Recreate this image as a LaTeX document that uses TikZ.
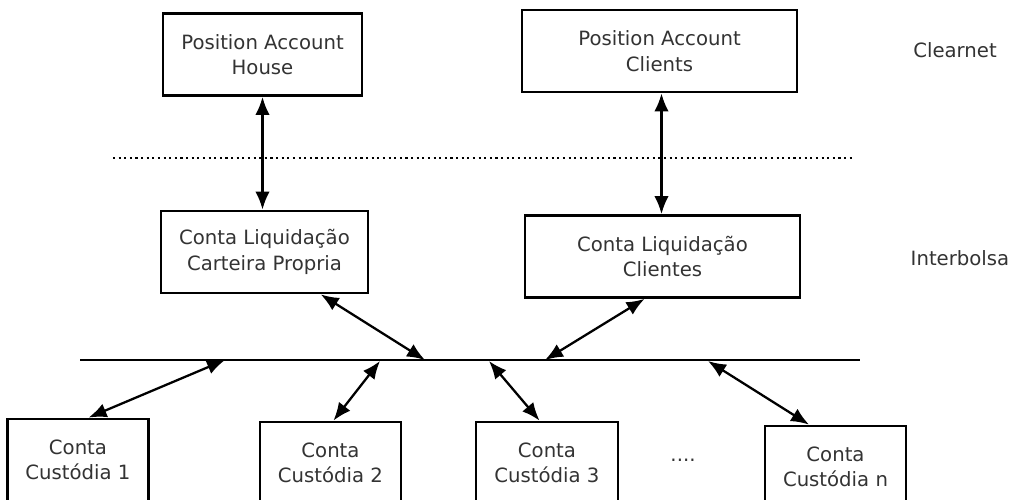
\documentclass[tikz,border=0pt]{standalone}
\usepackage{fontspec}
\setmainfont{DejaVu Sans}
\usetikzlibrary{arrows.meta}

\tikzset{
  account/.style={draw, line width=1.6pt, align=center, inner sep=2pt,
    minimum height=82*0.2mm, text=black!80},
  link/.style={line width=1.3pt, {Latex[length=3.6mm,width=2.9mm]}-{Latex[length=3.6mm,width=2.9mm]}},
  layer/.style={text=black!80}
}

\begin{document}
\begin{tikzpicture}[x=0.2mm, y=-0.2mm, font=\fontsize{11.2}{14.5}\selectfont]
        \useasboundingbox (0,0) rectangle (1014,500);
        \clip (0,0) rectangle (1014,500);
        % clearnet
        \node (pah) at (262.5,54.5) [account, minimum width=199*0.2mm] {Position Account\\House};
        \node (pac) at (659.5,51) [account, minimum width=275*0.2mm] {Position Account\\Clients};
        \node (clearnet) at (955,50) [layer] {Clearnet};
        \draw [line width=1.2pt, dotted] (113,158) -- (855,158);
        % interbolsa
        \node (clcp) at (264.5,252) [account, minimum width=207*0.2mm] {Conta Liquidação\\Carteira Propria};
        \node (clc) at (662.5,256.5) [account, minimum width=275*0.2mm] {Conta Liquidação\\Clientes};
        \node (interbolsa) at (960,258) [layer] {Interbolsa};
        \draw [line width=1.6pt] (80,360) -- (860,360);
        \coordinate (b1) at (225,360);
        \coordinate (b2) at (380,361);
        \coordinate (b3) at (425,360);
        \coordinate (b4) at (489,361);
        \coordinate (b5) at (545,360);
        \coordinate (b6) at (708,361);
        % custodia
        \node (cc1) at (78,460) [account, minimum width=141*0.2mm] {Conta\\Custódia 1};
        \node (cc2) at (330.5,463) [account, minimum width=141*0.2mm] {Conta\\Custódia 2};
        \node (cc3) at (547,463) [account, minimum width=142*0.2mm] {Conta\\Custódia 3};
        \node (ccn) at (835.5,467) [account, minimum width=141*0.2mm] {Conta\\Custódia n};
        \node (more) at (683,460) [layer] {....};
        % links
        \draw [link] (pah.south) -- (pah.south |- clcp.north);
        \draw [link] ([xshift=0.4mm]pac.south) -- ([xshift=0.4mm]pac.south |- clc.north);
        \draw [link] (clcp.323) -- (b3);
        \draw [link] (clc.247) -- (b5);
        \draw [link] (cc1.76) -- (b1);
        \draw [link] (cc2.86) -- (b2);
        \draw [link] (cc3.100) -- (b4);
        \draw [link] (ccn.122) -- (b6);
      \end{tikzpicture}
\end{document}
